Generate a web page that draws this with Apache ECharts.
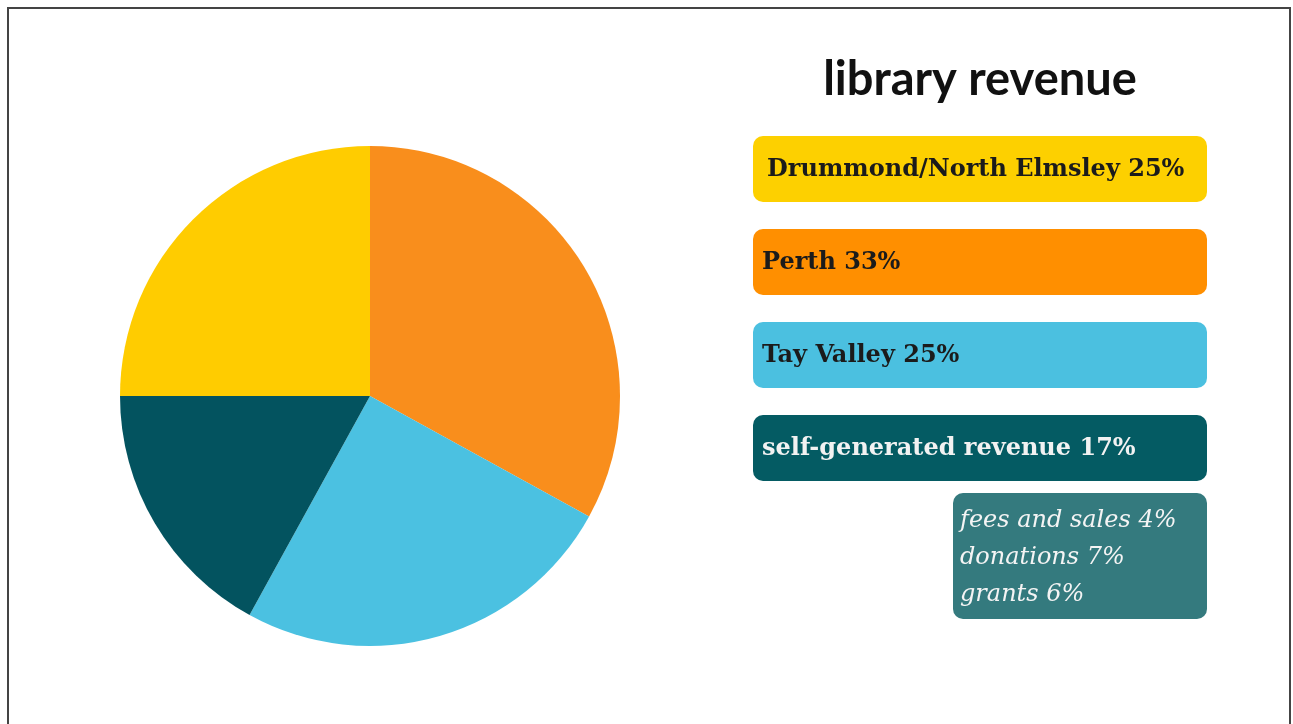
<!DOCTYPE html>
<html>
<head>
<meta charset="utf-8">
<script src="https://cdn.jsdelivr.net/npm/echarts@6/dist/echarts.min.js"></script>
<style>
html,body{margin:0;padding:0;background:#fff;}
#main{width:1293px;height:724px;}
</style>
</head>
<body>
<div id="main"></div>
<script>
// ---- data ----
const title = 'library revenue';
const categories = ['Perth', 'Tay Valley', 'self-generated revenue', 'Drummond/North Elmsley'];
const values = [33, 25, 17, 25];
const pieColors = ['#F98E1C', '#4BC1E1', '#03535F', '#FFCC00'];
// legend box order (top to bottom)
const legendOrder = ['Drummond/North Elmsley', 'Perth', 'Tay Valley', 'self-generated revenue'];
const legendColors = ['#FDD000', '#FF8F00', '#4BC0E0', '#045B63'];
const legendTextColors = ['#1b1b1b', '#1b1b1b', '#1b1b1b', '#F2F2F2'];
const subCategories = ['fees and sales', 'donations', 'grants'];
const subValues = [4, 7, 6];

const chart = echarts.init(document.getElementById('main'));

const graphics = [];
// frame
graphics.push({type:'polyline', shape:{points:[[8,730],[8,8],[1290,8],[1290,730]]},
  style:{stroke:'#444', lineWidth:2, fill:null}, silent:true});
// title
graphics.push({type:'text', x:980, y:80, style:{text:title, font:'bold 47px Lato, "Open Sans", sans-serif',
  fill:'#111', align:'center', verticalAlign:'middle'}});

const boxTops = [136, 229, 322, 415];
legendOrder.forEach((name, i) => {
  const v = values[categories.indexOf(name)];
  const y = boxTops[i];
  graphics.push({type:'rect', shape:{x:753, y:y, width:454, height:66, r:10},
    style:{fill:legendColors[i]}});
  graphics.push({type:'text', x: i === 0 ? 767 : 762, y: y + 34,
    style:{text: name + ' ' + v + '%', font:'bold 24px "DejaVu Serif", serif',
      fill:legendTextColors[i], align:'left', verticalAlign:'middle'}});
});
// sub box
graphics.push({type:'rect', shape:{x:953, y:493, width:254, height:126, r:10}, style:{fill:'#347A7E'}});
subCategories.forEach((name, i) => {
  graphics.push({type:'text', x:960, y:521 + i*37,
    style:{text: name + ' ' + subValues[i] + '%', font:'italic 24px "DejaVu Serif", serif',
      fill:'#F4F4F4', align:'left', verticalAlign:'middle'}});
});

chart.setOption({
  animation:false,
  backgroundColor:'#fff',
  series:[{
    type:'pie',
    center:[370, 396],
    radius:250,
    startAngle:90,
    clockwise:true,
    label:{show:false},
    labelLine:{show:false},
    emphasis:{disabled:true},
    itemStyle:{borderWidth:0},
    data: categories.map((c, i) => ({name:c, value:values[i], itemStyle:{color:pieColors[i]}}))
  }],
  graphic: graphics
});
</script>
</body>
</html>
